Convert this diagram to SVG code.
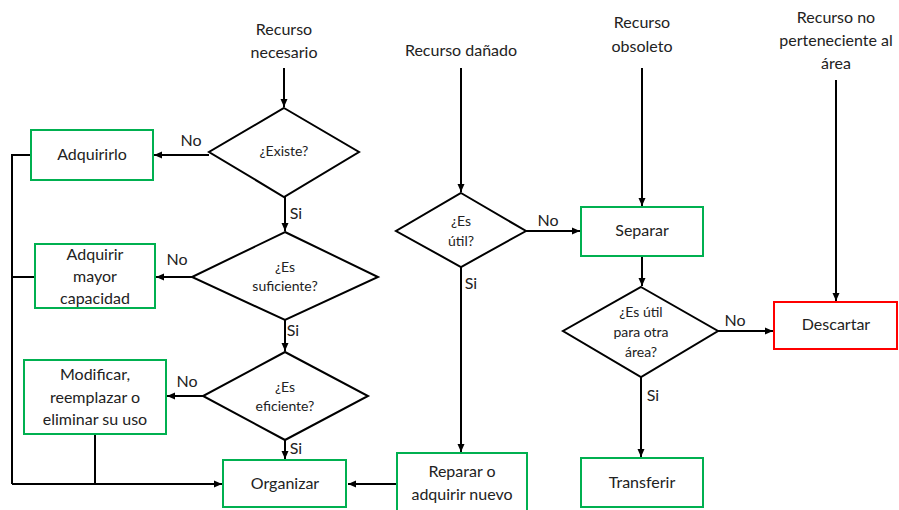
<svg xmlns="http://www.w3.org/2000/svg" width="899" height="510" viewBox="0 0 899 510">
<style>
text{font-family:Lato,"Noto Sans","Liberation Sans",sans-serif;fill:#222;text-anchor:middle;dominant-baseline:central;transform:translateY(-1.5px)}
.t{font-size:16px}
.d{font-size:14px}
.l{font-size:16px}
.box{fill:#fff;stroke:#00B050;stroke-width:2}
.red{fill:#fff;stroke:#FF0000;stroke-width:2}
.dia{fill:#fff;stroke:#000;stroke-width:2}
.c{fill:none;stroke:#000;stroke-width:2}
.a{marker-end:url(#ah)}
</style>
<defs>
<marker id="ah" markerUnits="userSpaceOnUse" markerWidth="9" markerHeight="8" refX="8" refY="4" orient="auto">
<path d="M0,0.5 L8,4 L0,7.5 Z" fill="#000"/>
</marker>
</defs>
<rect width="899" height="510" fill="#fff"/>
<g id="connectors">
<path class="c a" d="M284,68 V107"/>
<path class="c a" d="M209,155 H154"/>
<path class="c a" d="M285,197 V231"/>
<path class="c a" d="M192,277 H156"/>
<path class="c a" d="M285,320 V351"/>
<path class="c a" d="M203,396 H167"/>
<path class="c a" d="M285,440 V459"/>
<path class="c" d="M31,155 H12 V484"/>
<path class="c" d="M35,277 H12"/>
<path class="c a" d="M12,484 H222"/>
<path class="c" d="M95,434 V484"/>
<path class="c a" d="M397,484 H348"/>
<path class="c a" d="M461,68 V192"/>
<path class="c a" d="M461,267 V452"/>
<path class="c a" d="M526,231 H580"/>
<path class="c a" d="M642,68 V206"/>
<path class="c a" d="M642,256 V286"/>
<path class="c a" d="M641,377 V457"/>
<path class="c a" d="M718,331 H773"/>
<path class="c a" d="M836,80 V301"/>
</g>
<g id="labels">
<text class="l" x="191" y="141">No</text>
<text class="l" x="296" y="214">Si</text>
<text class="l" x="177" y="260">No</text>
<text class="l" x="293" y="331">Si</text>
<text class="l" x="187" y="382">No</text>
<text class="l" x="296" y="449">Si</text>
<text class="l" x="548" y="221">No</text>
<text class="l" x="471" y="284">Si</text>
<text class="l" x="653" y="396">Si</text>
<text class="l" x="735" y="321">No</text>
</g>
<g id="src-necesario">
<text class="t" x="284" y="30">Recurso</text>
<text class="t" x="284" y="53">necesario</text>
</g>
<g id="src-danado">
<text class="t" x="461" y="51">Recurso dañado</text>
</g>
<g id="src-obsoleto">
<text class="t" x="642" y="23">Recurso</text>
<text class="t" x="642" y="47">obsoleto</text>
</g>
<g id="src-noarea">
<text class="t" x="836" y="18">Recurso no</text>
<text class="t" x="836" y="41">perteneciente al</text>
<text class="t" x="836" y="64">área</text>
</g>
<g id="existe">
<polygon class="dia" points="284,108 359,152 284,197 209,152"/>
<text class="d" x="284" y="152">¿Existe?</text>
</g>
<g id="adquirirlo">
<rect class="box" x="31" y="130" width="122" height="50"/>
<text class="t" x="92" y="155">Adquirirlo</text>
</g>
<g id="suficiente">
<polygon class="dia" points="285,232 378,277 285,320 192,277"/>
<text class="d" x="285" y="268">¿Es</text>
<text class="d" x="285" y="287">suficiente?</text>
</g>
<g id="mayor">
<rect class="box" x="35" y="244" width="120" height="64"/>
<text class="t" x="95" y="255">Adquirir</text>
<text class="t" x="95" y="277">mayor</text>
<text class="t" x="95" y="299">capacidad</text>
</g>
<g id="eficiente">
<polygon class="dia" points="285,352 368,396 285,440 203,396"/>
<text class="d" x="285" y="388">¿Es</text>
<text class="d" x="285" y="407">eficiente?</text>
</g>
<g id="modificar">
<rect class="box" x="24" y="360" width="142" height="74"/>
<text class="t" x="95" y="375">Modificar,</text>
<text class="t" x="95" y="398">reemplazar o</text>
<text class="t" x="95" y="420">eliminar su uso</text>
</g>
<g id="organizar">
<rect class="box" x="223" y="460" width="123" height="47"/>
<text class="t" x="285" y="484">Organizar</text>
</g>
<g id="util">
<polygon class="dia" points="461,193 526,231 461,267 396,231"/>
<text class="d" x="461" y="222">¿Es</text>
<text class="d" x="461" y="242">útil?</text>
</g>
<g id="reparar">
<rect class="box" x="397" y="453" width="130" height="62"/>
<text class="t" x="462" y="472">Reparar o</text>
<text class="t" x="462" y="495">adquirir nuevo</text>
</g>
<g id="separar">
<rect class="box" x="581" y="207" width="122" height="49"/>
<text class="t" x="642" y="231">Separar</text>
</g>
<g id="otraarea">
<polygon class="dia" points="641,287 718,331 641,377 563,331"/>
<text class="d" x="641" y="313">¿Es útil</text>
<text class="d" x="641" y="333">para otra</text>
<text class="d" x="641" y="353">área?</text>
</g>
<g id="transferir">
<rect class="box" x="581" y="458" width="122" height="49"/>
<text class="t" x="642" y="483">Transferir</text>
</g>
<g id="descartar">
<rect class="red" x="774" y="302" width="123" height="47"/>
<text class="t" x="836" y="325">Descartar</text>
</g>
</svg>
